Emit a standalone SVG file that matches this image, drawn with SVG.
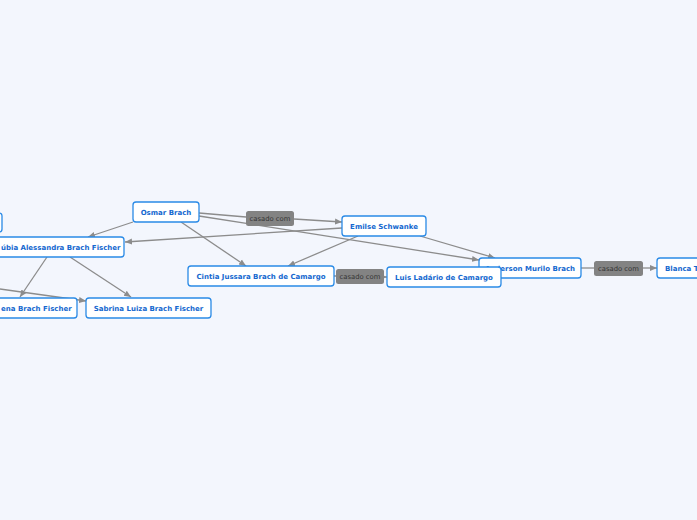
<svg xmlns="http://www.w3.org/2000/svg" width="697" height="520" viewBox="0 0 697 520">
<defs>
<style>
.n rect{fill:#fff;stroke:#2a8ae6;stroke-width:1.3}
.n text{font-family:"DejaVu Sans",Verdana,sans-serif;font-weight:bold;font-size:7px;fill:#1468cf;text-anchor:middle}
.l rect{fill:#838383;stroke:none}
.l text{font-family:"DejaVu Sans",Verdana,sans-serif;font-size:6.8px;fill:#333;text-anchor:middle}
.e line,.e path{stroke:#8c8c8c;stroke-width:1.3;fill:none}
.a{marker-end:url(#ah)}
</style>
<marker id="ah" markerUnits="userSpaceOnUse" markerWidth="8" markerHeight="8" viewBox="0 0 8 8" refX="7" refY="4" orient="auto">
<path d="M0,1 L7,4 L0,7 Z" fill="#8c8c8c"/>
</marker>
</defs>
<rect width="697" height="520" fill="#f3f6fd"/>
<g id="edges" class="e">
<line class="a" x1="133" y1="222" x2="88" y2="237"/>
<line class="a" x1="342" y1="228" x2="125" y2="242"/>
<line x1="199" y1="213" x2="246" y2="217"/>
<line class="a" x1="294" y1="219" x2="342" y2="222"/>
<line class="a" x1="181" y1="222" x2="246" y2="266"/>
<line class="a" x1="358" y1="236" x2="288" y2="266"/>
<line class="a" x1="199" y1="216" x2="479" y2="260"/>
<line class="a" x1="420" y1="236" x2="495" y2="258"/>
<line x1="334" y1="276" x2="336" y2="276"/>
<line class="a" x1="384" y1="277" x2="387" y2="277"/>
<line x1="581" y1="268" x2="594" y2="268"/>
<line class="a" x1="643" y1="268" x2="657" y2="268"/>
<line class="a" x1="47" y1="257" x2="20" y2="297"/>
<line class="a" x1="70" y1="257" x2="131" y2="297"/>
<line class="a" x1="0" y1="289" x2="86" y2="301"/>
</g>
<g id="n-left" class="n"><rect x="-40" y="213" width="42" height="19" rx="3"/></g>
<g id="n-osmar" class="n"><rect x="133" y="202" width="66" height="20" rx="3"/><text x="166" y="214.5">Osmar Brach</text></g>
<g id="n-rubia" class="n"><rect x="-13" y="237" width="137" height="20" rx="3"/><text x="1" y="249.5" style="text-anchor:start">úbia Alessandra Brach Fischer</text></g>
<g id="n-ena" class="n"><rect x="-40" y="298" width="117" height="20" rx="3"/><text x="1" y="310.5" style="text-anchor:start">ena Brach Fischer</text></g>
<g id="n-sabrina" class="n"><rect x="86" y="298" width="125" height="20" rx="3"/><text x="148.5" y="310.5">Sabrina Luiza Brach Fischer</text></g>
<g id="n-cintia" class="n"><rect x="188" y="266" width="146" height="20" rx="3"/><text x="261" y="278.5">Cintia Jussara Brach de Camargo</text></g>
<g id="n-emilse" class="n"><rect x="342" y="216" width="84" height="20" rx="3"/><text x="384" y="228.5">Emilse Schwanke</text></g>
<g id="n-anderson" class="n"><rect x="479" y="258" width="102" height="20" rx="3"/><text x="530" y="270.5">Anderson Murilo Brach</text></g>
<g id="n-luis" class="n"><rect x="387" y="267" width="114" height="20" rx="3"/><text x="444" y="279.5">Luis Ladário de Camargo</text></g>
<g id="n-blanca" class="n"><rect x="657" y="258" width="80" height="20" rx="3"/><text x="665" y="270.5" style="text-anchor:start">Blanca T</text></g>
<g id="l1" class="l"><rect x="246" y="211" width="48" height="15" rx="2.5"/><text x="270" y="220.5">casado com</text></g>
<g id="l2" class="l"><rect x="336" y="269" width="48" height="15" rx="2.5"/><text x="360" y="278.5">casado com</text></g>
<g id="l3" class="l"><rect x="594" y="261" width="49" height="15" rx="2.5"/><text x="618.5" y="270.5">casado com</text></g>
</svg>
